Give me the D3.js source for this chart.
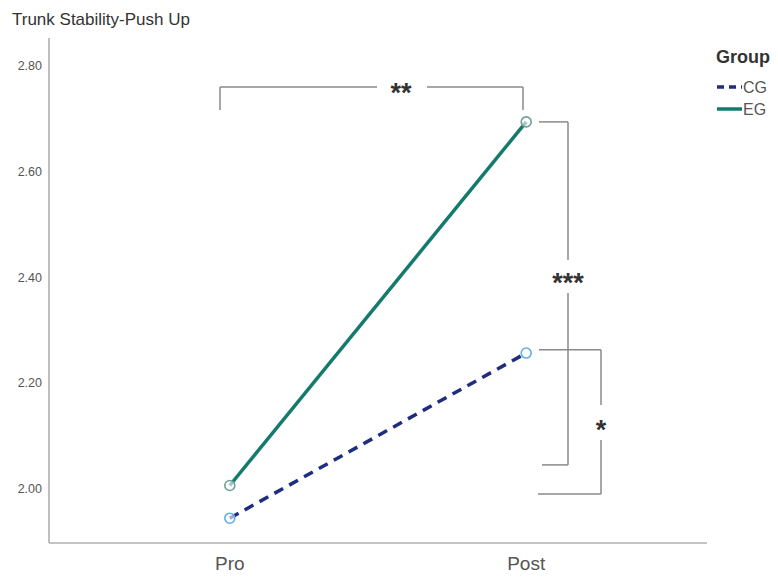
<!DOCTYPE html>
<html><head><meta charset="utf-8">
<script src="https://cdn.jsdelivr.net/npm/d3@7"></script>
<style>body{margin:0;background:#fff;} svg{display:block;font-family:"Liberation Sans",Arial,sans-serif;}</style>
</head><body>
<svg id="c" width="778" height="578"></svg>
<script>
const categories = ["Pro", "Post"];
const groups = ["CG", "EG"];
const cgValues = [1.943, 2.256];
const egValues = [2.005, 2.694];
const yTicks = [2.00, 2.20, 2.40, 2.60, 2.80];
// significance brackets: [label, y-top value, y-bottom value]
const sigLabels = ["**", "***", "*"];
const sigTopValues = [2.80, 2.694, 2.262];
const sigBottomValues = [2.756, 2.044, 1.989];

const svg = d3.select("#c");
const x = d3.scalePoint().domain(categories).range([49, 707]).padding(0.61);
const y = d3.scaleLinear().domain([1.896, 2.853]).range([543, 38]);

// title
svg.append("text").attr("x", 12).attr("y", 25).attr("font-size", 17).attr("fill", "#333")
  .text("Trunk Stability-Push Up");

// axes
const axisColor = "#b0b0b0";
svg.append("line").attr("x1", 49).attr("x2", 49).attr("y1", y.range()[1]).attr("y2", y.range()[0])
  .attr("stroke", axisColor).attr("stroke-width", 1.6);
svg.append("line").attr("x1", 49).attr("x2", 707).attr("y1", y.range()[0]).attr("y2", y.range()[0])
  .attr("stroke", axisColor).attr("stroke-width", 1.6);

svg.selectAll(".ytl").data(yTicks).join("text").attr("class", "ytl")
  .attr("x", 42).attr("y", d => y(d)).attr("dy", "0.36em").attr("text-anchor", "end")
  .attr("font-size", 12.5).attr("fill", "#555").text(d => d.toFixed(2));

svg.selectAll(".xtl").data(categories).join("text").attr("class", "xtl")
  .attr("x", d => x(d)).attr("y", 570).attr("text-anchor", "middle")
  .attr("font-size", 19).attr("fill", "#555").text(d => d);

// brackets
const bc = "#8a8a8a";
function seg(x1, y1, x2, y2) {
  svg.append("line").attr("x1", x1).attr("y1", y1).attr("x2", x2).attr("y2", y2)
    .attr("stroke", bc).attr("stroke-width", 1.5).attr("fill", "none");
}
// top bracket (between Pro and Post, EG)
{
  const yt = 87, yb = 110, xl = 220, xr = 523, cx = 401;
  seg(xl, yb, xl, yt); seg(xl, yt, 377, yt); seg(427, yt, xr, yt); seg(xr, yt, xr, yb);
  svg.append("text").attr("x", cx).attr("y", yt + 15).attr("text-anchor", "middle")
    .attr("font-size", 27).attr("font-weight", "bold").attr("fill", "#333").text(sigLabels[0]);
}
// *** bracket
{
  const xv = 568, yt = y(sigTopValues[1]), yb = y(sigBottomValues[1]), cy = 277;
  seg(539, yt, xv, yt); seg(xv, yt, xv, cy - 17); seg(xv, cy + 16, xv, yb); seg(xv, yb, 542, yb);
  svg.append("text").attr("x", xv).attr("y", cy + 15).attr("text-anchor", "middle")
    .attr("font-size", 27).attr("font-weight", "bold").attr("fill", "#333").text(sigLabels[1]);
}
// * bracket
{
  const xv = 601, yt = y(sigTopValues[2]), yb = y(sigBottomValues[2]), cy = 424;
  seg(539, yt, xv, yt); seg(xv, yt, xv, cy - 19); seg(xv, cy + 16, xv, yb); seg(xv, yb, 538, yb);
  svg.append("text").attr("x", xv).attr("y", cy + 15).attr("text-anchor", "middle")
    .attr("font-size", 27).attr("font-weight", "bold").attr("fill", "#333").text(sigLabels[2]);
}

// lines
const line = d3.line().x((d, i) => x(categories[i])).y(d => y(d));
const egColor = "#137a6c", cgColor = "#1e2d80";
svg.append("path").datum(egValues).attr("d", line).attr("fill", "none")
  .attr("stroke", egColor).attr("stroke-width", 3.5);
svg.append("path").datum(cgValues).attr("d", line).attr("fill", "none")
  .attr("stroke", cgColor).attr("stroke-width", 3.5).attr("stroke-dasharray", "10,7");

// markers
svg.selectAll(".egm").data(egValues).join("circle").attr("class", "egm")
  .attr("cx", (d, i) => x(categories[i])).attr("cy", d => y(d)).attr("r", 5)
  .attr("fill", "#fff").attr("fill-opacity", 0.6).attr("stroke", "#6f9f98").attr("stroke-width", 1.6);
svg.selectAll(".cgm").data(cgValues).join("circle").attr("class", "cgm")
  .attr("cx", (d, i) => x(categories[i])).attr("cy", d => y(d)).attr("r", 5)
  .attr("fill", "#fff").attr("fill-opacity", 0.6).attr("stroke", "#5faee6").attr("stroke-width", 1.6);

// legend
svg.append("text").attr("x", 716).attr("y", 63).attr("font-size", 18).attr("font-weight", "bold")
  .attr("fill", "#333").text("Group");
const legY = [87, 109];
svg.append("line").attr("x1", 717).attr("x2", 742).attr("y1", legY[0]).attr("y2", legY[0])
  .attr("stroke", cgColor).attr("stroke-width", 3.5).attr("stroke-dasharray", "7,5");
svg.append("line").attr("x1", 717).attr("x2", 742).attr("y1", legY[1]).attr("y2", legY[1])
  .attr("stroke", egColor).attr("stroke-width", 3.5);
svg.selectAll(".lgt").data(groups).join("text").attr("class", "lgt")
  .attr("x", 743).attr("y", (d, i) => legY[i]).attr("dy", "0.36em")
  .attr("font-size", 16).attr("fill", "#555").text(d => d);
</script>
</body></html>
